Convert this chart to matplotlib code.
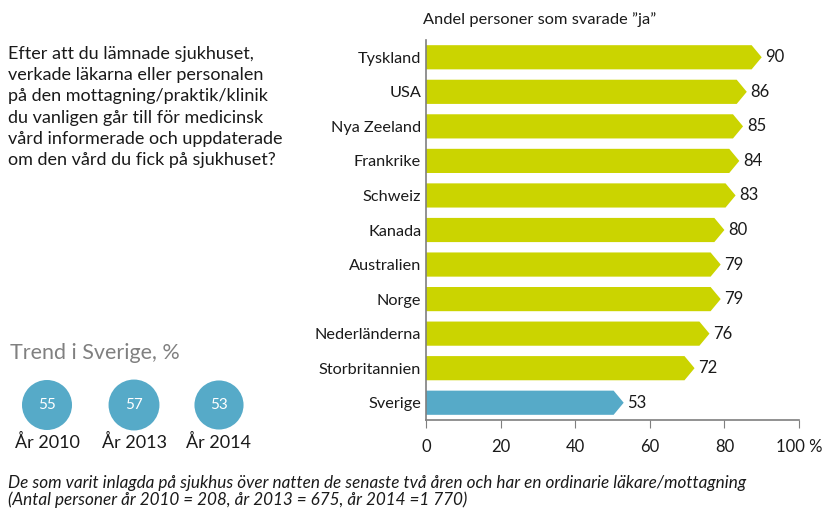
import numpy as np
import matplotlib
matplotlib.use('Agg')
import matplotlib.pyplot as plt
from matplotlib.patches import Polygon, Circle

plt.rcParams['font.family'] = ['Lato', 'DejaVu Sans']

# data
countries = ['Tyskland', 'USA', 'Nya Zeeland', 'Frankrike', 'Schweiz', 'Kanada',
             'Australien', 'Norge', 'Nederländerna', 'Storbritannien', 'Sverige']
values = [90, 86, 85, 84, 83, 80, 79, 79, 76, 72, 53]
trend_years = ['År 2010', 'År 2013', 'År 2014']
trend_values = [55, 57, 53]
xticks = [0, 20, 40, 60, 80, 100]
xticklabels = ['0', '20', '40', '60', '80', '100 %']

green = '#cbd400'
blue = '#56aac8'
grey = '#7f7f7f'

fig = plt.figure(figsize=(8.27, 5.11), dpi=100)

# background axes in pixel coords for free text and circles
bg = fig.add_axes([0, 0, 1, 1])
bg.set_xlim(0, 827)
bg.set_ylim(511, 0)
bg.axis('off')

ax = fig.add_axes([426/827, 1-420/511, 373/827, 380/511])

h = 0.7
tip = 2.7  # length of arrow point in data units
for i, (c, v) in enumerate(zip(countries, values)):
    col = blue if c == 'Sverige' else green
    pts = [(0, i-h/2), (v-tip, i-h/2), (v, i), (v-tip, i+h/2), (0, i+h/2)]
    ax.add_patch(Polygon(pts, closed=True, facecolor=col, edgecolor='none'))
    ax.text(v+1.0, i, str(v), va='center', ha='left', fontsize=12, color='#1a1a1a')

ax.set_xlim(0, 100)
ax.set_ylim(len(countries)-0.5, -0.5)
ax.set_yticks(range(len(countries)))
ax.set_yticklabels(countries, fontsize=11.7, color='#1a1a1a')
ax.tick_params(axis='y', length=0, pad=3.5)
ax.set_xticks(xticks)
ax.set_xticklabels(xticklabels, fontsize=12, color='#1a1a1a')
ax.tick_params(axis='x', direction='out', length=6, color=grey, pad=8)
for s in ['top', 'right']:
    ax.spines[s].set_visible(False)
ax.spines['left'].set_color(grey)
ax.spines['bottom'].set_color(grey)
ax.spines['left'].set_linewidth(1.2)
ax.spines['bottom'].set_linewidth(1.2)

bg.text(423, 20, 'Andel personer som svarade \u201dja\u201d', fontsize=11.8, va='center', ha='left', color='#1a1a1a')

question = ('Efter att du lämnade sjukhuset,\n'
            'verkade läkarna eller personalen\n'
            'på den mottagning/praktik/klinik\n'
            'du vanligen går till för medicinsk\n'
            'vård informerade och uppdaterade\n'
            'om den vård du fick på sjukhuset?')
bg.text(8, 46, question, fontsize=13, va='top', ha='left', color='#1a1a1a', linespacing=1.4)

bg.text(10, 353, 'Trend i Sverige, %', fontsize=15.5, va='center', ha='left', color='#808080')

cx = [47, 134, 219]
for x, yr, v in zip(cx, trend_years, trend_values):
    r = 25 * np.sqrt(v / 55)
    bg.add_patch(Circle((x, 405), r, facecolor=blue, edgecolor='none'))
    bg.text(x, 405, str(v), color='white', fontsize=11, ha='center', va='center')
    bg.text(x, 442, yr, color='#1a1a1a', fontsize=13, ha='center', va='center')

bg.text(8, 483, 'De som varit inlagda på sjukhus över natten de senaste två åren och har en ordinarie läkare/mottagning',
        fontsize=12.3, style='italic', va='center', ha='left', color='#1a1a1a')
bg.text(8, 500, '(Antal personer år 2010 = 208, år 2013 = 675, år 2014 =1 770)',
        fontsize=12.3, style='italic', va='center', ha='left', color='#1a1a1a')

fig.savefig('out.png', dpi=100)
